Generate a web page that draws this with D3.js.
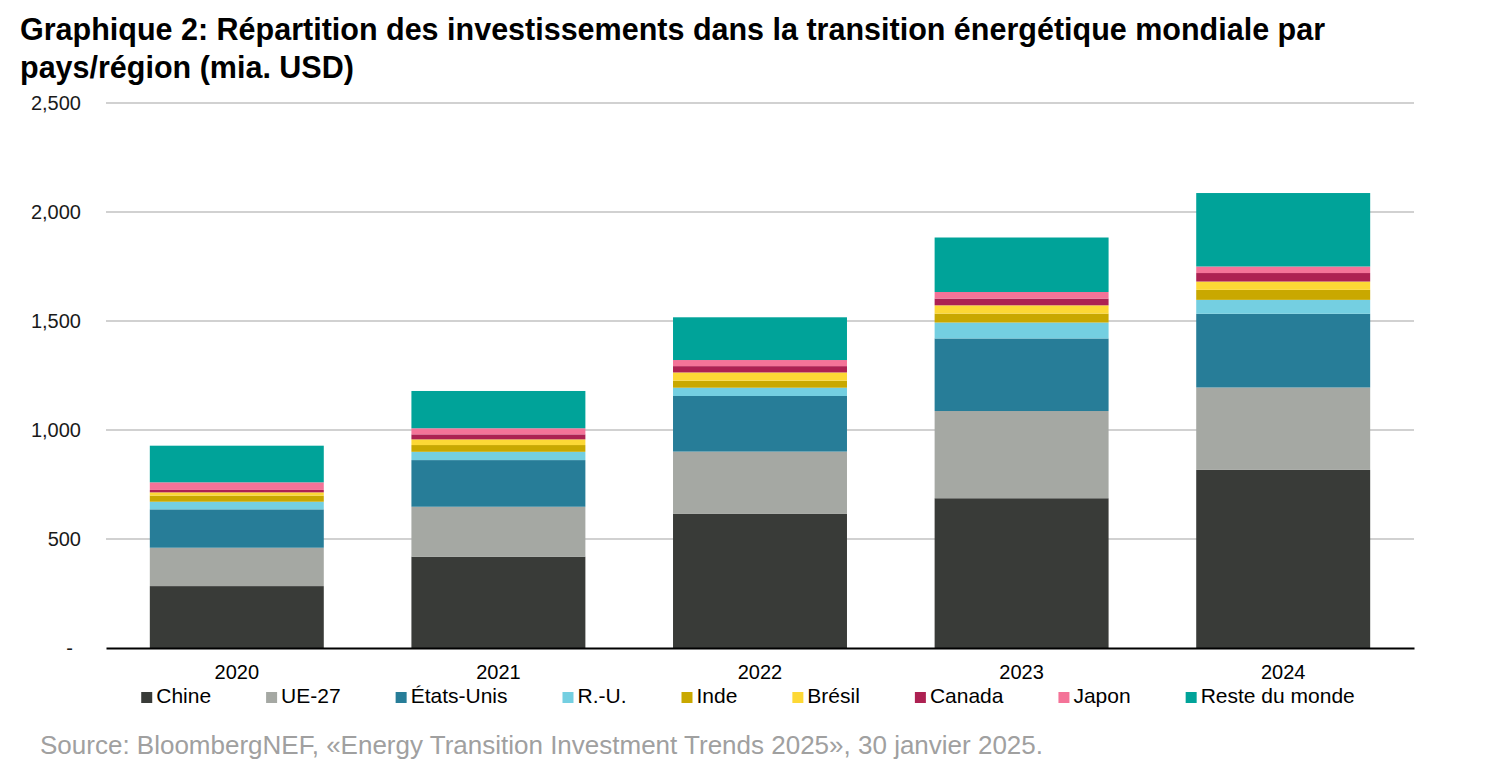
<!DOCTYPE html>
<html><head><meta charset="utf-8">
<script src="https://cdn.jsdelivr.net/npm/d3@7"></script>
<style>body{margin:0;background:#fff;} svg text{font-family:"Liberation Sans",Arial,sans-serif;}</style>
</head><body>
<svg id="chart" width="1500" height="774"></svg>
<script>
const years = ["2020","2021","2022","2023","2024"];
const seriesNames = ["Chine","UE-27","États-Unis","R.-U.","Inde","Brésil","Canada","Japon","Reste du monde"];
const seriesColors = ["#393b38","#a5a8a3","#277d98","#74cfe1","#c9a800","#fdd835","#ad2152","#f47398","#00a399"];
const chine   = [284, 419, 615, 687, 817];
const ue27    = [176, 229, 286, 400, 378];
const usa     = [176, 214, 255, 333, 338];
const ru      = [35, 38, 38, 73, 64];
const inde    = [28, 31, 32, 41, 46];
const bresil  = [15, 26, 38, 38, 38];
const canada  = [11, 23, 29, 31, 39];
const japon   = [35, 28, 28, 30, 30];
const reste   = [168, 171, 196, 250, 337];
const yTicks = [0, 500, 1000, 1500, 2000, 2500];
const titleLines = ["Graphique 2: Répartition des investissements dans la transition énergétique mondiale par","pays/région (mia. USD)"];
const sourceText = "Source: BloombergNEF, «Energy Transition Investment Trends 2025», 30 janvier 2025.";

const seriesValues = [chine, ue27, usa, ru, inde, bresil, canada, japon, reste];
const table = years.map((y,i)=>{const o={year:y}; seriesNames.forEach((s,j)=>o[s]=seriesValues[j][i]); return o;});

const svg = d3.select("#chart");
const m = {left:106, right:1414, top:103, bottom:648};
const x = d3.scaleBand().domain(years).range([m.left, m.right]).paddingInner(0.335).paddingOuter(0.1675);
const y = d3.scaleLinear().domain([0,2500]).range([m.bottom, m.top]);

// title
svg.append("g").selectAll("text").data(titleLines).join("text")
  .attr("x",20).attr("y",(d,i)=>40+i*38)
  .attr("font-size",30.5).attr("font-weight","bold").attr("fill","#000").text(d=>d);

// gridlines
svg.append("g").selectAll("line").data(yTicks.filter(t=>t>0)).join("line")
  .attr("x1",m.left).attr("x2",m.right).attr("y1",d=>y(d)).attr("y2",d=>y(d))
  .attr("stroke","#a3a3a3").attr("stroke-width",1.2);

// y axis labels
const yAxis = d3.axisLeft(y).tickValues(yTicks).tickSize(0).tickPadding(0)
  .tickFormat(d=> d===0 ? "-" : d3.format(",")(d));
const gy = svg.append("g").attr("transform",`translate(${81},0)`).call(yAxis);
gy.select(".domain").remove();
gy.selectAll("text").attr("font-size",20).attr("fill","#1a1a1a")
  .attr("font-family","Liberation Sans, Arial, sans-serif")
  .attr("dx", d=> d===0 ? -8 : 0);

// bars
const stack = d3.stack().keys(seriesNames)(table);
svg.append("g").selectAll("g").data(stack).join("g")
  .attr("fill",(d,i)=>seriesColors[i])
  .selectAll("rect").data(d=>d).join("rect")
  .attr("x",d=>x(d.data.year)).attr("width",x.bandwidth())
  .attr("y",d=>y(d[1])).attr("height",d=>y(d[0])-y(d[1]));

// baseline axis
const xAxis = d3.axisBottom(x).tickSize(0);
const gx = svg.append("g").attr("transform",`translate(0,${m.bottom})`).call(xAxis);
gx.select(".domain").attr("stroke","#000").attr("stroke-width",2);
gx.selectAll("text").attr("font-size",20).attr("fill","#000")
  .attr("font-family","Liberation Sans, Arial, sans-serif")
  .attr("y",31).attr("dy",0);

// legend
const lg = svg.append("g");
const items = lg.selectAll("g").data(seriesNames).join("g");
items.append("rect").attr("width",11).attr("height",11).attr("y",-11).attr("fill",(d,i)=>seriesColors[i]);
items.append("text").attr("x",15).attr("y",0).attr("font-size",21).attr("fill","#000").text(d=>d);
let cx = 0; const gap = 55;
items.each(function(){
  const w = 15 + this.querySelector("text").getComputedTextLength();
  d3.select(this).attr("transform",`translate(${cx},0)`);
  cx += w + gap;
});
const totalW = cx - gap;
lg.attr("transform",`translate(${748 - totalW/2},703)`);

// source
svg.append("text").attr("x",40).attr("y",754).attr("font-size",26).attr("fill","#a0a0a0").text(sourceText);
</script>
</body></html>
